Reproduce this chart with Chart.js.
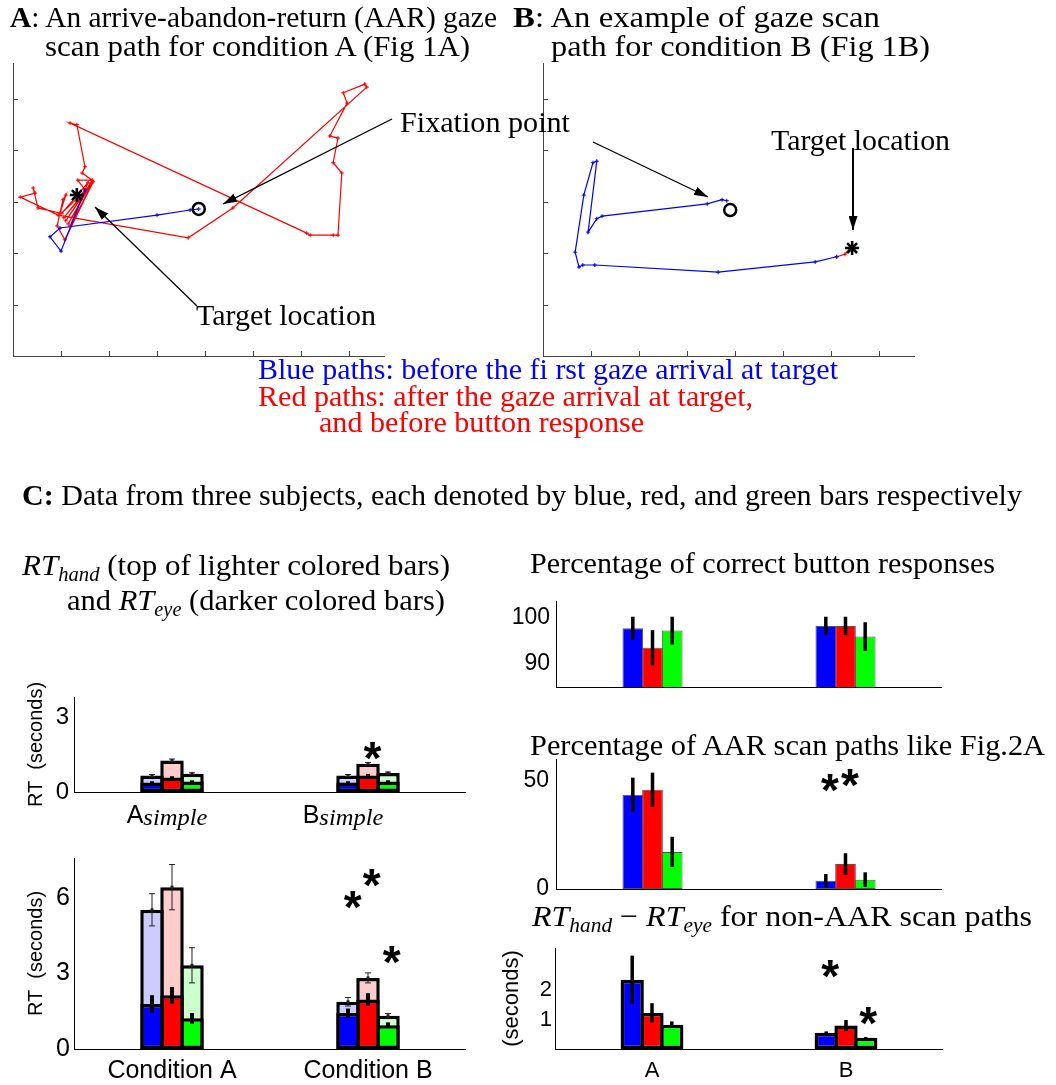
<!DOCTYPE html>
<html>
<head>
<meta charset="utf-8">
<script src="https://cdn.jsdelivr.net/npm/chart.js@4.4.0/dist/chart.umd.min.js"></script>
<style>
  body { margin: 0; background: #fff; }
  #page { position: relative; width: 1056px; height: 1085px; overflow: hidden; font-family: "Liberation Serif", "Times New Roman", serif; }
  .box { position: absolute; }
  .t { position: absolute; white-space: nowrap; font-size: 30px; line-height: 1; transform-origin: left center; color: #000; }
  .t sub { font-size: 20px; line-height: 0; vertical-align: -6px; }
  .blue { color: #0000ff; }
  .red { color: #ff0000; }
  svg { position: absolute; left: 0; top: 0; pointer-events: none; }
</style>
</head>
<body>
<div id="page">
  <div class="box" style="left:0;top:63px;width:385px;height:294px"><canvas id="pathA"></canvas></div>
  <div class="box" style="left:530px;top:63px;width:385px;height:294px"><canvas id="pathB"></canvas></div>
  <div class="box" style="left:0;top:675px;width:466px;height:165px"><canvas id="rtSimple"></canvas></div>
  <div class="box" style="left:0;top:850px;width:466px;height:235px"><canvas id="rtCond"></canvas></div>
  <div class="box" style="left:500px;top:595px;width:442px;height:95px"><canvas id="correct"></canvas></div>
  <div class="box" style="left:500px;top:752px;width:442px;height:152px"><canvas id="aar"></canvas></div>
  <div class="box" style="left:495px;top:940px;width:448px;height:145px"><canvas id="diff"></canvas></div>

  <svg width="1056" height="1085">
    <defs>
      <marker id="ah" markerWidth="14" markerHeight="9" refX="14" refY="4.5" orient="auto" markerUnits="userSpaceOnUse">
        <path d="M0,0 L14,4.5 L0,9 z" fill="#000"/>
      </marker>
    </defs>
    <line x1="392" y1="119" x2="223" y2="204" stroke="#000" stroke-width="1.3" marker-end="url(#ah)"/>
    <line x1="197" y1="306" x2="95" y2="207" stroke="#000" stroke-width="1.3" marker-end="url(#ah)"/>
    <line x1="593" y1="142" x2="708" y2="197" stroke="#000" stroke-width="1.3" marker-end="url(#ah)"/>
    <line x1="853" y1="148" x2="853" y2="230" stroke="#000" stroke-width="2" marker-end="url(#ah)"/>
  </svg>

  <span class="t" style="left:10px;top:2px" data-w="487"><b>A</b>: An arrive-abandon-return (AAR) gaze</span>
  <span class="t" style="left:45px;top:31px" data-w="425">scan path for condition A (Fig 1A)</span>
  <span class="t" style="left:513px;top:2px" data-w="367"><b>B</b>: An example of gaze scan</span>
  <span class="t" style="left:551px;top:31px" data-w="379">path for condition B (Fig 1B)</span>
  <span class="t" style="left:400px;top:107px" data-w="170">Fixation point</span>
  <span class="t" style="left:196px;top:300px" data-w="180">Target location</span>
  <span class="t" style="left:771px;top:125px" data-w="179">Target location</span>
  <span class="t blue" style="left:258px;top:354px" data-w="580">Blue paths: before the fi rst gaze arrival at target</span>
  <span class="t red" style="left:258px;top:381px" data-w="495">Red paths: after the gaze arrival at target,</span>
  <span class="t red" style="left:319px;top:407px" data-w="325">and before button response</span>
  <span class="t" style="left:22px;top:480px" data-w="1000"><b>C:</b> Data from three subjects, each denoted by blue, red, and green bars respectively</span>
  <span class="t" style="left:22px;top:550px" data-w="428"><i>RT<sub>hand</sub></i> (top of lighter colored bars)</span>
  <span class="t" style="left:67px;top:585px" data-w="378">and <i>RT<sub>eye</sub></i> (darker colored bars)</span>
  <span class="t" style="left:530px;top:548px" data-w="465">Percentage of correct button responses</span>
  <span class="t" style="left:530px;top:730px" data-w="515">Percentage of AAR scan paths like Fig.2A</span>
  <span class="t" style="left:532px;top:901px" data-w="500"><i>RT<sub>hand</sub></i> &minus; <i>RT<sub>eye</sub></i> for non-AAR scan paths</span>
</div>

<script>
// ---- Panel A / B: gaze scan paths (eye tracker units) ----
const pathTicksX = [100, 200, 300, 400, 500, 600, 700];
const pathTicksY = [100, 200, 300, 400, 500];

const aBluePath = [[387,286],[369,284],[300,274],[98,249],[77,232],[100,204],[150,323]];
const aRedPath = [[150,319],[106,269],[162,335],[110,263],[165,341],[115,257],[160,331],[102,278],
  [156,337],[119,253],[167,339],[108,226],[92,253],[104,304],[110,313],[98,278],[52,288],[42,327],
  [46,317],[15,309],[94,274],[365,230],[458,288],[737,523],[733,529],[688,512],[696,492],[660,428],
  [677,424],[667,376],[685,356],[677,235],[667,235],[619,235],[612,239],[119,453],[133,450],
  [150,368],[144,356],[165,342],[135,342],[150,323]];
const aFixation = [[387,286]];
const aTarget = [[133,313]];

const bBluePath = [[383,302],[373,304],[342,296],[123,272],[112,267],[94,241],[112,379],[104,376],
  [85,313],[67,202],[75,173],[83,177],[108,177],[365,163],[567,183],[612,193]];
const bRedPath = [[612,193],[629,198],[644,214]];
const bFixation = [[390,284]];
const bTarget = [[644,210]];

// ---- Panel C: three subjects (blue, red, green) ----
const darkColors = ['#0000ff', '#ff0000', '#00ff00'];
const lightColors = ['#ccccff', '#ffcccc', '#ccffcc'];

const simpleGroups = ['A', 'B'];
const simpleHand = [[0.66, 0.66], [1.26, 1.13], [0.73, 0.76]];
const simpleHandErr = [[0.04, 0.04], [0.06, 0.05], [0.04, 0.04]];
const simpleEye = [[0.38, 0.38], [0.58, 0.66], [0.42, 0.42]];
const simpleEyeErr = [[0.05, 0.05], [0.05, 0.06], [0.05, 0.05]];
const simpleTicks = [0, 3];
const simpleStars = [[1.023, 1.65]];

const condGroups = ['Condition A', 'Condition B'];
const condHand = [[5.54, 1.88], [6.44, 2.83], [3.33, 1.32]];
const condHandErr = [[0.64, 0.17], [0.9, 0.2], [0.7, 0.09]];
const condEye = [[1.79, 1.43], [2.14, 1.97], [1.22, 0.95]];
const condEyeErr = [[0.35, 0.18], [0.33, 0.25], [0.21, 0.11]];
const condTicks = [0, 3, 6];
const condStars = [[0.922, 5.94], [1.019, 6.81], [1.121, 3.73]];

const pctGroups = ['A', 'B'];
const correctPct = [[97.7, 98.2], [93.5, 98.2], [97.2, 95.9]];
const correctErr = [[2.5, 2.0], [3.8, 2.0], [3.0, 3.1]];
const correctTicks = [90, 100];

const aarPct = [[43.5, 3.8], [45.8, 11.5], [17.1, 4.3]];
const aarErr = [[7.9, 3.1], [7.9, 5.0], [7.0, 3.4]];
const aarTicks = [0, 50];
const aarStars = [[0.92, 48.9], [1.023, 51.2]];

const diffSec = [[2.36, 0.55], [1.23, 0.80], [0.83, 0.38]];
const diffErr = [[0.82, 0.05], [0.33, 0.19], [0.11, 0.03]];
const diffTicks = [1, 2];
const diffStars = [[0.918, 2.71], [1.115, 1.14]];

Chart.defaults.font.family = '"Liberation Sans", Arial, Helvetica, sans-serif';
Chart.defaults.color = '#000';
Chart.defaults.animation = false;
Chart.defaults.plugins.legend.display = false;
Chart.defaults.plugins.tooltip.enabled = false;

const toXY = arr => arr.map(([x, y]) => ({ x, y }));

// fixed axis boxes so the plot areas land where the figure has them
function sizeY(w) { return s => { s.width = w; s.paddingTop = 0; s.paddingBottom = 0; s.paddingLeft = 0; s.paddingRight = 0; }; }
function sizeX(h) { return s => { s.height = h; s.paddingTop = 0; s.paddingBottom = 0; s.paddingLeft = 0; s.paddingRight = 0; }; }

// MATLAB style ticks pointing into the plot
function innerTicks(len) {
  return {
    id: 'innerTicks',
    afterDatasetsDraw(chart) {
      const { ctx, chartArea: a, scales: { x, y } } = chart;
      ctx.save();
      ctx.strokeStyle = '#444';
      ctx.lineWidth = 1;
      ctx.beginPath();
      x.ticks.forEach(t => { const p = Math.round(x.getPixelForValue(t.value)) + 0.5; ctx.moveTo(p, a.bottom); ctx.lineTo(p, a.bottom - len); });
      y.ticks.forEach(t => { const p = Math.round(y.getPixelForValue(t.value)) + 0.5; ctx.moveTo(a.left, p); ctx.lineTo(a.left + len, p); });
      ctx.stroke();
      ctx.restore();
    }
  };
}

function pathChart(id, blue, red, fix, target) {
  const line = (data, color) => ({
    data: toXY(data), showLine: true, borderColor: color, backgroundColor: color,
    borderWidth: 1.2, pointStyle: 'cross', pointRadius: 2, pointBorderWidth: 1, tension: 0
  });
  return new Chart(document.getElementById(id), {
    type: 'scatter',
    data: {
      datasets: [
        { data: toXY(fix), pointStyle: 'circle', pointRadius: 6, borderColor: '#000', borderWidth: 2.5, backgroundColor: 'rgba(0,0,0,0)' },
        { data: toXY(target), pointStyle: 'star', pointRadius: 7, borderColor: '#000', borderWidth: 2.5 },
        line(blue, '#0000ff'),
        line(red, '#ff0000')
      ]
    },
    options: {
      responsive: true, maintainAspectRatio: false,
      layout: { padding: 0, autoPadding: false },
      scales: {
        x: { type: 'linear', min: 0, max: 775, afterBuildTicks: s => { s.ticks = pathTicksX.map(v => ({ value: v })); },
             ticks: { display: false }, grid: { display: false, drawTicks: false }, border: { display: true, color: '#444' }, afterFit: sizeX(1) },
        y: { type: 'linear', min: 0, max: 570, afterBuildTicks: s => { s.ticks = pathTicksY.map(v => ({ value: v })); },
             ticks: { display: false }, grid: { display: false, drawTicks: false }, border: { display: true, color: '#444' }, afterFit: sizeY(13) }
      }
    },
    plugins: [innerTicks(5)]
  });
}

const errorBars = {
  id: 'errorBars',
  afterDatasetsDraw(chart) {
    const { ctx, scales: { y } } = chart;
    const sets = chart.data.datasets;
    for (let i = sets.length - 1; i >= 0; i--) {
      const ds = sets[i];
      if (!ds.errors) continue;
      const st = ds.errStyle;
      chart.getDatasetMeta(i).data.forEach((bar, j) => {
        const v = ds.data[j], e = ds.errors[j];
        const top = y.getPixelForValue(v + e);
        const bot = y.getPixelForValue(Math.max(v - e, y.min));
        ctx.save();
        ctx.strokeStyle = st.color;
        ctx.lineWidth = st.width;
        ctx.beginPath();
        ctx.moveTo(bar.x, top); ctx.lineTo(bar.x, bot);
        if (st.cap) {
          ctx.moveTo(bar.x - st.cap, top); ctx.lineTo(bar.x + st.cap, top);
          ctx.moveTo(bar.x - st.cap, bot); ctx.lineTo(bar.x + st.cap, bot);
        }
        ctx.stroke();
        if (st.dot) {
          ctx.fillStyle = st.color;
          ctx.fillRect(bar.x - st.dot / 2, y.getPixelForValue(v) - st.dot / 2, st.dot, st.dot);
        }
        ctx.restore();
      });
    }
  }
};

function starMarks(points, size) {
  return {
    id: 'starMarks',
    afterDraw(chart) {
      const { ctx, scales: { x, y } } = chart;
      ctx.save();
      ctx.font = 'bold ' + size + 'px "Liberation Sans", Arial, sans-serif';
      ctx.fillStyle = '#000';
      ctx.textAlign = 'center';
      ctx.textBaseline = 'alphabetic';
      const m = ctx.measureText('*');
      const shift = (m.actualBoundingBoxAscent - m.actualBoundingBoxDescent) / 2;
      points.forEach(([px, py]) => ctx.fillText('*', x.getPixelForValue(px), y.getPixelForValue(py) + shift));
      ctx.restore();
    }
  };
}

// "A_simple" style labels with an italic subscript
function subLabels(main, sub, dx) {
  return {
    id: 'subLabels',
    afterDraw(chart) {
      const { ctx, chartArea: a, scales: { x } } = chart;
      const base = a.bottom + 30.5;
      main.forEach((m, i) => {
        ctx.save();
        ctx.fillStyle = '#000';
        ctx.textBaseline = 'alphabetic';
        ctx.font = '25px "Liberation Sans", Arial, sans-serif';
        const mw = ctx.measureText(m).width;
        const subW = 64;
        const left = x.getPixelForValue(i) + dx[i] - (mw + subW) / 2;
        ctx.fillText(m, left, base);
        ctx.font = 'italic 23px "Liberation Serif", serif';
        const sw = ctx.measureText(sub).width;
        ctx.translate(left + mw, base + 2.5);
        ctx.scale(subW / sw, 1);
        ctx.fillText(sub, 0, 0);
        ctx.restore();
      });
    }
  };
}

const thinErr = { color: '#222', width: 1, cap: 3, dot: 3 };
const thickErr = { color: '#000', width: 4, cap: 0, dot: 0 };

function barChart(id, o) {
  const datasets = [];
  o.series.forEach(sr => {
    sr.values.forEach((vals, k) => {
      datasets.push({
        data: vals, errors: sr.errors[k], errStyle: sr.errStyle,
        backgroundColor: sr.colors[k], borderColor: o.edge, borderWidth: o.edgeWidth,
        borderSkipped: false, stack: 's' + k,
        categoryPercentage: 0.306, barPercentage: o.barPct
      });
    });
  });
  return new Chart(document.getElementById(id), {
    type: 'bar',
    data: { labels: o.labels, datasets },
    options: {
      responsive: true, maintainAspectRatio: false,
      layout: { padding: { top: o.padTop, left: 0, right: 0, bottom: 0 }, autoPadding: false },
      scales: {
        x: {
          stacked: true, offset: true,
          ticks: { display: o.xFont > 0, font: { size: o.xFont || 12 }, padding: o.xPad || 0, maxRotation: 0, autoSkip: false },
          grid: { display: false, drawTicks: false }, border: { display: true, color: '#000' },
          afterFit: sizeX(o.xh)
        },
        y: {
          stacked: false, min: o.yMin, max: o.yMax,
          afterBuildTicks: s => { s.ticks = o.yTicks.map(v => ({ value: v })); },
          ticks: { font: { size: o.yFont }, padding: o.yPad },
          grid: { display: false, drawTicks: false }, border: { display: true, color: '#000' },
          title: o.yTitle ? { display: true, text: o.yTitle, font: { size: o.yTitleSize }, padding: { top: o.yTitlePad, bottom: 0 } } : { display: false },
          afterFit: sizeY(o.yw)
        }
      }
    },
    plugins: [errorBars].concat(o.extra || [])
  });
}

pathChart('pathA', aBluePath, aRedPath, aFixation, aTarget);
pathChart('pathB', bBluePath, bRedPath, bFixation, bTarget);

barChart('rtSimple', {
  labels: simpleGroups, padTop: 22, xh: 48, yw: 74, yMin: 0, yMax: 3.8, yTicks: simpleTicks,
  yFont: 24, yPad: 5, yTitle: 'RT  (seconds)', yTitleSize: 20, yTitlePad: 24.5,
  edge: '#000', edgeWidth: 3.5, barPct: 1.175,
  series: [
    { values: simpleEye, errors: simpleEyeErr, colors: darkColors, errStyle: thickErr },
    { values: simpleHand, errors: simpleHandErr, colors: lightColors, errStyle: thinErr }
  ],
  extra: [starMarks(simpleStars, 46), subLabels(simpleGroups, 'simple', [-5, -25])]
});

barChart('rtCond', {
  labels: condGroups, padTop: 8, xh: 36, yw: 74, yMin: 0, yMax: 7.6, yTicks: condTicks,
  yFont: 25, yPad: 4, xFont: 25, xPad: 7, yTitle: 'RT  (seconds)', yTitleSize: 20, yTitlePad: 24.5,
  edge: '#000', edgeWidth: 3.5, barPct: 1.175,
  series: [
    { values: condEye, errors: condEyeErr, colors: darkColors, errStyle: thickErr },
    { values: condHand, errors: condHandErr, colors: lightColors, errStyle: thinErr }
  ],
  extra: [starMarks(condStars, 46)]
});

barChart('correct', {
  labels: pctGroups, padTop: 6, xh: 3, yw: 56, yMin: 85, yMax: 103.6, yTicks: correctTicks,
  yFont: 23, yPad: 6, edge: '#555', edgeWidth: 1, barPct: 1.05,
  series: [{ values: correctPct, errors: correctErr, colors: darkColors, errStyle: { color: '#000', width: 3.5, cap: 0, dot: 0 } }]
});

barChart('aar', {
  labels: pctGroups, padTop: 7, xh: 15, yw: 56, yMin: 0, yMax: 60, yTicks: aarTicks,
  yFont: 23, yPad: 7, edge: '#555', edgeWidth: 1, barPct: 1.05,
  series: [{ values: aarPct, errors: aarErr, colors: darkColors, errStyle: { color: '#000', width: 3.5, cap: 0, dot: 0 } }],
  extra: [starMarks(aarStars, 46)]
});

barChart('diff', {
  labels: pctGroups, padTop: 8, xh: 36, yw: 60, yMin: 0, yMax: 3.44, yTicks: diffTicks,
  yFont: 22, yPad: 3, xFont: 22, xPad: 9, yTitle: '(seconds)', yTitleSize: 22, yTitlePad: 3.3,
  edge: '#000', edgeWidth: 3.5, barPct: 1.175,
  series: [{ values: diffSec, errors: diffErr, colors: darkColors, errStyle: { color: '#000', width: 3.5, cap: 0, dot: 0 } }],
  extra: [starMarks(diffStars, 46)]
});

// stretch the serif captions to the widths they have in the figure
document.querySelectorAll('.t[data-w]').forEach(el => {
  const w = el.getBoundingClientRect().width;
  if (w > 0) el.style.transform = 'scaleX(' + (el.dataset.w / w) + ')';
});
</script>
</body>
</html>
